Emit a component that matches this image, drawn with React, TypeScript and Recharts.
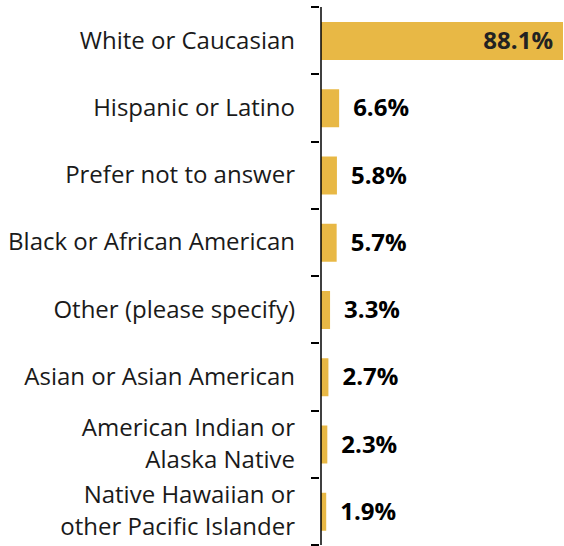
import { BarChart, Bar, XAxis, YAxis, LabelList } from 'recharts';

const categories = [
  'White or Caucasian',
  'Hispanic or Latino',
  'Prefer not to answer',
  'Black or African American',
  'Other (please specify)',
  'Asian or Asian American',
  'American Indian or\nAlaska Native',
  'Native Hawaiian or\nother Pacific Islander',
];
const values = [88.1, 6.6, 5.8, 5.7, 3.3, 2.7, 2.3, 1.9];

const data = categories.map((name, i) => ({ name, value: values[i] }));

const GOLD = '#E8B845';
const FONT = '"Open Sans", sans-serif';
const TOP = 7;
const BOTTOM = 1;
const HEIGHT = 546;
const BAND = (HEIGHT - TOP - BOTTOM) / categories.length;

// tick line at the top of each band, plus one at the bottom of the last
function CategoryTick(props: any) {
  const { x, y, payload, index } = props;
  const lines: string[] = String(payload.value).split('\n');
  const lh = 32;
  const start = -((lines.length - 1) * lh) / 2;
  const ax = x + 8;
  const t1 = Math.round(y - BAND / 2);
  const t2 = Math.round(y + BAND / 2);
  return (
    <g>
      <line x1={ax - 8} x2={ax} y1={t1} y2={t1} stroke="#000" strokeWidth={2} />
      {index === categories.length - 1 && (
        <line x1={ax - 8} x2={ax} y1={t2} y2={t2} stroke="#000" strokeWidth={2} />
      )}
      <text x={x - 16} y={y} textAnchor="end" fontFamily={FONT} fontSize={24} fill="#1a1a1a">
        {lines.map((l, i) => (
          <tspan key={i} x={x - 16} dy={i === 0 ? start + 8 : lh}>
            {l}
          </tspan>
        ))}
      </text>
    </g>
  );
}

function ValueLabel(props: any) {
  const { x, y, width, height, value } = props;
  const inside = value > 50;
  const cy = y + height / 2 + 8;
  return (
    <text
      x={inside ? x + width - 10 : x + width + 14}
      y={cy}
      textAnchor={inside ? 'end' : 'start'}
      fontFamily={FONT}
      fontWeight={700}
      fontSize={24}
      fill={inside ? '#222' : '#000'}
    >
      {value.toFixed(1)}%
    </text>
  );
}

export default function App() {
  return (
    <div style={{ position: 'absolute', left: 0, top: 0 }}>
      <BarChart
        width={564}
        height={HEIGHT}
        data={data}
        layout="vertical"
        margin={{ top: TOP, right: 1, bottom: BOTTOM, left: 0 }}
        barCategoryGap={0}
      >
        <XAxis type="number" domain={[0, 88.1]} hide />
        <YAxis
          type="category"
          dataKey="name"
          width={321}
          axisLine={{ stroke: '#000', strokeWidth: 1.5 }}
          tickLine={false}
          tickSize={8}
          tick={<CategoryTick />}
          interval={0}
        />
        <Bar dataKey="value" fill={GOLD} barSize={38} isAnimationActive={false}>
          <LabelList dataKey="value" content={<ValueLabel />} />
        </Bar>
      </BarChart>
    </div>
  );
}
